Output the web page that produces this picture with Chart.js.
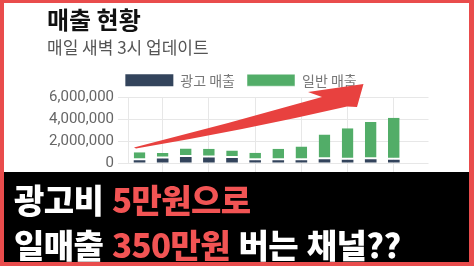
<!DOCTYPE html>
<html lang="ko">
<head>
<meta charset="utf-8">
<script src="https://cdn.jsdelivr.net/npm/chart.js@4.4.1/dist/chart.umd.min.js"></script>
<style>
  html, body { margin: 0; padding: 0; }
  body {
    width: 474px; height: 266px; position: relative; overflow: hidden;
    background: #e94c4c;
    font-family: "Noto Sans CJK KR", "Noto Sans", sans-serif;
  }
  #panel {
    position: absolute; left: 4px; top: 3px; width: 465px; height: 169px;
    background: #ffffff; overflow: hidden;
  }
  #chartBox { position: absolute; left: 37px; top: 0; width: 400px; height: 173px; }
  #arrow { position: absolute; left: 0; top: 0; width: 474px; height: 266px; pointer-events: none; }
  #band {
    position: absolute; left: 4px; top: 172px; width: 465px; height: 90px;
    background: #000000; color: #ffffff;
  }
  .line {
    position: absolute; left: 10px; white-space: nowrap;
    font-family: "Noto Sans CJK KR", sans-serif; font-weight: 900;
    font-size: 33px; line-height: 33px; letter-spacing: -0.6px;
  }
  .hl { color: #f25454; }
</style>
</head>
<body>
<div id="panel">
  <div id="chartBox"><canvas id="sales" width="400" height="173"></canvas></div>
</div>
<svg id="arrow" viewBox="0 0 474 266">
  <path d="M 134 147.5 Q 229 123.5 322 97 L 308 92 L 363.5 84 L 357 107 L 347 106.5 Q 245 130 136 148.5 Z"
        fill="#e8413f"/>
</svg>
<div id="band">
  <div class="line" style="top:11px">광고비 <span class="hl">5만원으로</span></div>
  <div class="line" style="top:56px">일매출 <span class="hl">350만원</span> 버는 채널??</div>
</div>
<script>
// Daily sales, last 13 days (the most recent day has no figures yet)
const days = ['1일', '2일', '3일', '4일', '5일', '6일', '7일', '8일', '9일', '10일', '11일', '12일', '13일'];
const adSales = [250000, 420000, 550000, 500000, 450000, 250000, 250000, 250000, 350000, 300000, 350000, 300000, null];
const organicSales = [720000, 490000, 770000, 790000, 680000, 690000, 1040000, 1250000, 2260000, 2880000, 3400000, 3820000, null];
const yTicks = [0, 2000000, 4000000, 6000000];

const FONT = "Roboto, 'Noto Sans CJK KR', sans-serif";
const KFONT = "'Noto Sans CJK KR', 'Noto Sans', sans-serif";
const GRID = '#e7e7e7';

new Chart(document.getElementById('sales'), {
  type: 'bar',
  data: {
    labels: days,
    datasets: [
      {
        label: '광고 매출',
        data: adSales,
        backgroundColor: '#33445c',
        borderWidth: 0,
        barPercentage: 0.63,
        categoryPercentage: 0.8
      },
      {
        label: '일반 매출',
        data: organicSales,
        backgroundColor: '#52ad68',
        borderColor: '#ffffff',
        borderWidth: { top: 0, left: 0, right: 0, bottom: 2 },
        borderSkipped: false,
        barPercentage: 0.63,
        categoryPercentage: 0.8
      }
    ]
  },
  options: {
    responsive: false,
    devicePixelRatio: 1,
    animation: false,
    layout: { padding: { left: 6, right: 6, top: 0, bottom: 1 } },
    plugins: {
      title: {
        display: true,
        text: '매출 현황',
        align: 'start',
        color: '#111111',
        font: { family: KFONT, size: 24, weight: 'bold' },
        padding: { top: 2, bottom: 4 }
      },
      subtitle: {
        display: true,
        text: '매일 새벽 3시 업데이트',
        align: 'start',
        color: '#555555',
        font: { family: KFONT, size: 17 },
        padding: { top: 0, bottom: 3 }
      },
      legend: {
        labels: {
          boxWidth: 48,
          boxHeight: 12,
          padding: 12,
          color: '#777777',
          font: { family: KFONT, size: 14 }
        }
      },
      tooltip: { enabled: false }
    },
    scales: {
      x: {
        stacked: true,
        ticks: { display: false },
        border: { display: false },
        grid: {
          offset: false,
          tickLength: 10,
          color: (ctx) => (ctx.index % 2 === 1 ? GRID : 'rgba(0,0,0,0)')
        }
      },
      y: {
        stacked: true,
        min: 0,
        max: 6000000,
        afterBuildTicks: (scale) => { scale.ticks = yTicks.map(v => ({ value: v })); },
        afterFit: (scale) => { scale.width = 81; },
        ticks: {
          color: '#666666',
          padding: 4,
          font: { family: FONT, size: 15 },
          callback: (v) => Number(v).toLocaleString('en-US')
        },
        border: { display: true, color: GRID },
        grid: { color: GRID, tickLength: 10 }
      },
      // empty spacer axis on the right edge of the plot
      yRight: {
        type: 'linear',
        position: 'right',
        display: true,
        afterFit: (scale) => { scale.width = 6.5; },
        ticks: { display: false },
        grid: { display: false, drawTicks: false },
        border: { display: false }
      }
    }
  }
});
</script>
</body>
</html>
